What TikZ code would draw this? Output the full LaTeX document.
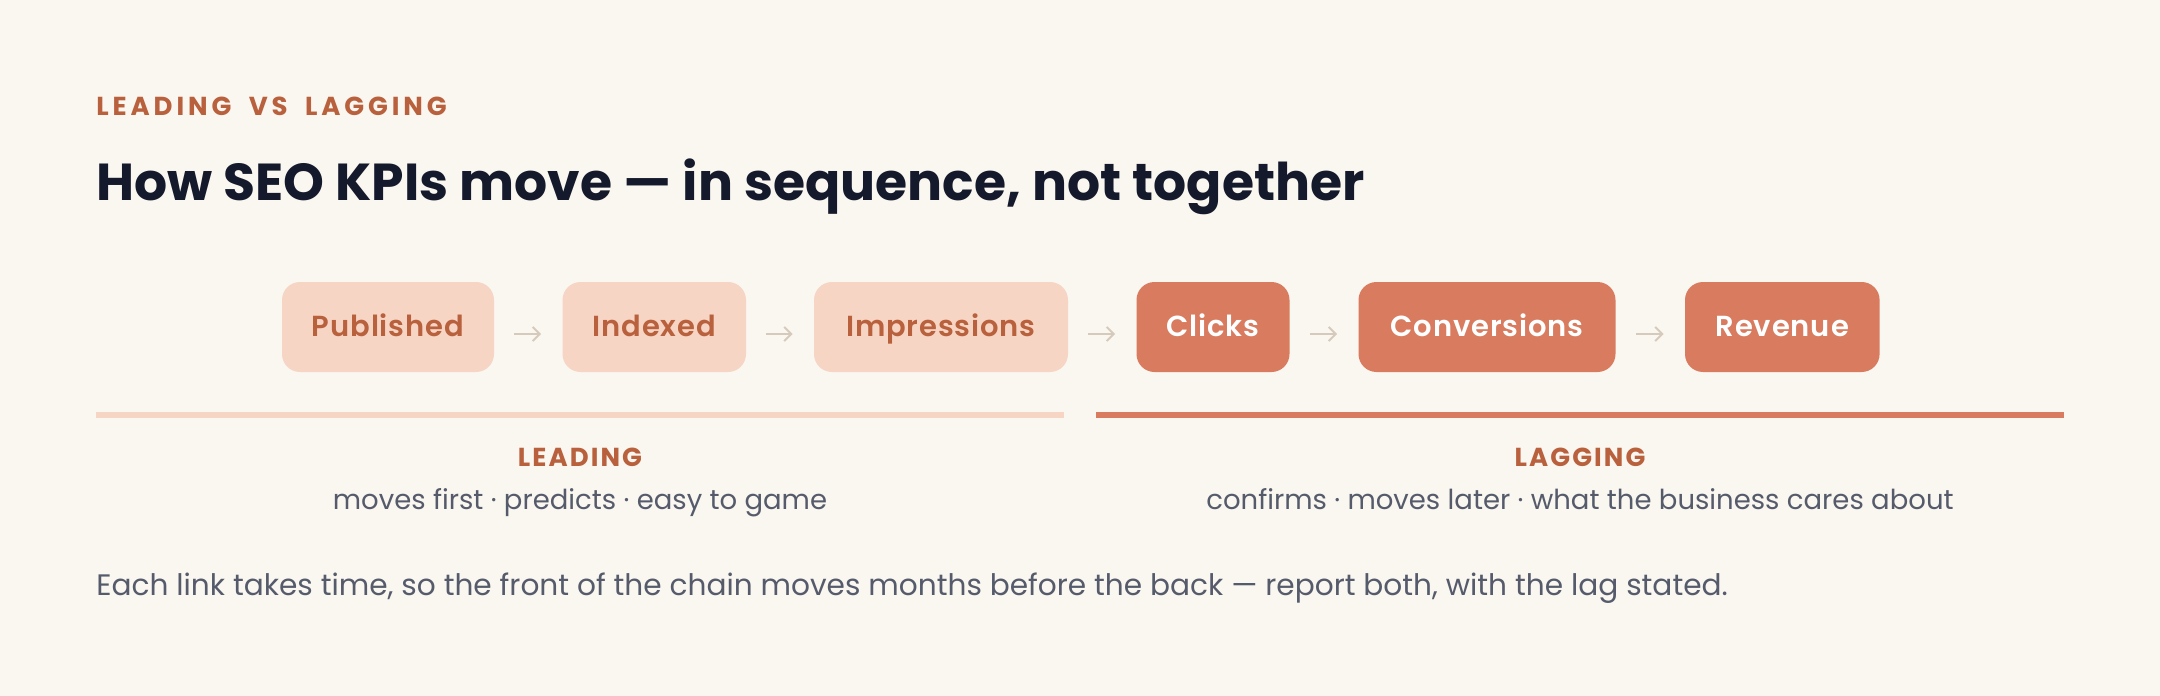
\documentclass[tikz,border=0pt]{standalone}
\usepackage{fontspec}
\setmainfont{Poppins}
\newfontfamily\psemi{Poppins SemiBold}
\newfontfamily\pbold{Poppins Bold}
\usetikzlibrary{arrows.meta}
\definecolor{bg}{HTML}{FAF6F0}
\definecolor{rust}{HTML}{B9603D}
\definecolor{lightfill}{HTML}{F6D5C5}
\definecolor{darkfill}{HTML}{D97B5F}
\definecolor{arrowc}{HTML}{D6CABC}
\definecolor{titlec}{HTML}{141A2B}
\definecolor{subc}{HTML}{555B6B}
\tikzset{
  kpi/.style={rounded corners=9pt, minimum height=45pt, inner sep=0pt, anchor=center,
    text height=10.5pt, text depth=1.5pt,
    font=\psemi\fontsize{14.5pt}{16pt}\selectfont\addfontfeature{LetterSpace=3}},
  lead/.style={kpi, fill=lightfill, text=rust},
  lag/.style={kpi, fill=darkfill, text=white},
  link/.style={draw=arrowc, line width=1pt, -{Straight Barb[length=3.5pt,width=7pt]}, shorten <=10pt, shorten >=10.5pt},
  band/.style={line width=2.8pt},
  grouphead/.style={anchor=base, text=rust, font=\pbold\fontsize{13pt}{15pt}\selectfont\addfontfeature{LetterSpace=8}},
  groupsub/.style={anchor=base, text=subc, font=\fontsize{13.75pt}{15pt}\selectfont},
}
\begin{document}
\begin{tikzpicture}[x=0.5pt,y=-0.5pt]
\path[fill=bg] (0,0) rectangle (2160,696);
\node[anchor=base west, inner sep=0pt, text=rust, font=\pbold\fontsize{13pt}{16pt}\selectfont\addfontfeature{LetterSpace=15}] (eyebrow) at (96,115) {LEADING\hspace{4pt} VS\hspace{4pt} LAGGING};
\node[anchor=base west, inner sep=0pt, text=titlec, font=\pbold\fontsize{26pt}{30pt}\selectfont] (title) at (96,200) {How SEO KPIs move — in sequence, not together};
\node[lead, minimum width=106pt] (pub) at (388,327) {Published};
\node[lead, minimum width=91.75pt] (idx) at (654.25,327) {Indexed};
\node[lead, minimum width=127pt] (imp) at (941,327) {Impressions};
\node[lag, minimum width=76.5pt] (clk) at (1213,327) {Clicks};
\node[lag, minimum width=128.5pt] (conv) at (1487,327) {Conversions};
\node[lag, minimum width=97.3pt] (rev) at (1782.3,327) {Revenue};
\foreach \a/\b in {pub/idx, idx/imp, imp/clk, clk/conv, conv/rev}{
  \draw[link] ([yshift=-3.5pt]\a.east) -- ([yshift=-3.5pt]\b.west);
}
\coordinate (l1) at (96,415); \coordinate (l2) at (1064,415);
\coordinate (g1) at (1096,415); \coordinate (g2) at (2064,415);
\draw[band, draw=lightfill] (l1) -- (l2);
\draw[band, draw=darkfill] (g1) -- (g2);
\node[grouphead] (leadh) at (580,466) {LEADING};
\node[groupsub] (leads) at (580,509) {moves first · predicts · easy to game};
\node[grouphead] (lagh) at (1580,466) {LAGGING};
\node[groupsub] (lags) at (1580,509) {confirms · moves later · what the business cares about};
\node[anchor=base west, inner sep=0pt, text=subc, font=\fontsize{14.8pt}{16pt}\selectfont] (foot) at (96,595) {Each link takes time, so the front of the chain moves months before the back — report both, with the lag stated.};
\end{tikzpicture}
\end{document}
